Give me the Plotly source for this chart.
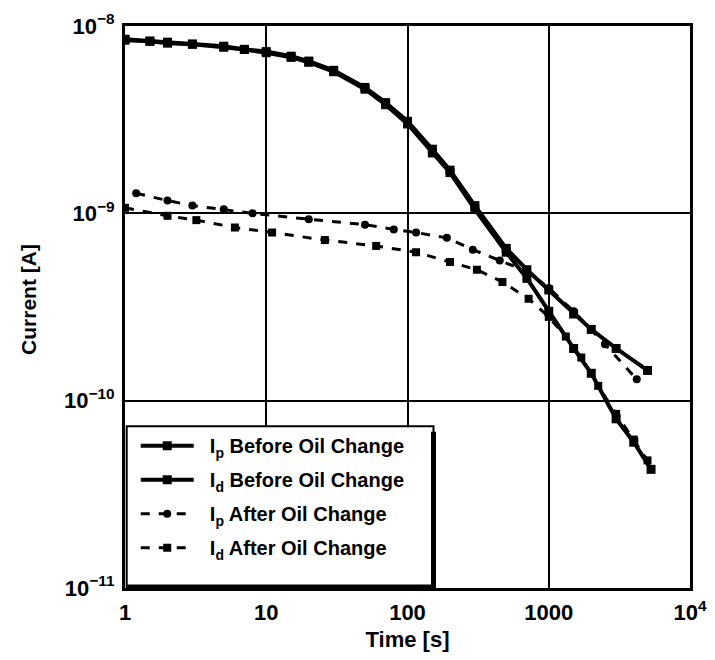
import plotly.graph_objects as go

# ---- data ----
t_ip_before = [1, 1.5, 2, 3, 5, 7, 10, 15, 20, 30, 50, 70, 100, 150, 200, 300, 500, 700, 1000, 1500, 2000, 3000, 5000]
ip_before = [8.5e-9, 8.3e-9, 8.2e-9, 8.0e-9, 7.8e-9, 7.5e-9, 7.3e-9, 6.9e-9, 6.5e-9, 5.8e-9, 4.7e-9, 3.9e-9,
             3.1e-9, 2.2e-9, 1.7e-9, 1.1e-9, 6.5e-10, 5.0e-10, 3.9e-10, 2.9e-10, 2.4e-10, 1.9e-10, 1.45e-10]

t_id_before = [1, 1.5, 2, 3, 5, 7, 10, 15, 20, 30, 50, 70, 100, 150, 200, 300, 500, 700, 1000, 1500, 2000, 3000, 4000, 5300]
id_before = [8.4e-9, 8.3e-9, 8.1e-9, 8.0e-9, 7.7e-9, 7.5e-9, 7.2e-9, 6.8e-9, 6.4e-9, 5.7e-9, 4.6e-9, 3.8e-9,
             3.0e-9, 2.1e-9, 1.65e-9, 1.05e-9, 6.2e-10, 4.5e-10, 3.0e-10, 1.9e-10, 1.4e-10, 8.0e-11, 6.0e-11, 4.3e-11]

t_ip_after = [1.2, 2, 3, 5, 8, 20, 50, 80, 115, 190, 290, 450, 700, 1000, 1500, 2500, 4200]
ip_after = [1.28e-9, 1.17e-9, 1.1e-9, 1.05e-9, 1.0e-9, 9.3e-10, 8.7e-10, 8.2e-10, 7.9e-10, 7.4e-10, 6.4e-10,
            5.6e-10, 4.9e-10, 4.0e-10, 3.0e-10, 2.0e-10, 1.3e-10]

t_id_after = [1, 2, 3.2, 6, 11, 26, 60, 115, 200, 310, 470, 720, 1000, 1320, 1700, 2240, 3000, 4000, 5000]
id_after = [1.07e-9, 9.7e-10, 9.2e-10, 8.4e-10, 7.9e-10, 7.2e-10, 6.7e-10, 6.2e-10, 5.5e-10, 5.0e-10, 4.3e-10,
            3.5e-10, 2.8e-10, 2.2e-10, 1.7e-10, 1.2e-10, 8.5e-11, 6.2e-11, 4.8e-11]

x_tickvals = [1, 10, 100, 1000, 10000]
x_ticktext = ["1", "10", "100", "1000", "10<sup>4</sup>"]
y_tickvals = [1e-11, 1e-10, 1e-9, 1e-8]
y_ticktext = ["10<sup>\u221211</sup>", "10<sup>\u221210</sup>", "10<sup>\u22129</sup>", "10<sup>\u22128</sup>"]

names = ["I<sub>p</sub> Before Oil Change", "I<sub>d</sub> Before Oil Change",
         "I<sub>p</sub> After Oil Change", "I<sub>d</sub> After Oil Change"]

FONT = "Liberation Sans"
PAD = "\u00a0" * 2

fig = go.Figure()
series = [
    (t_ip_before, ip_before, names[0], "solid", "square", 9, 4),
    (t_id_before, id_before, names[1], "solid", "square", 9, 4),
    (t_ip_after, ip_after, names[2], "dash", "circle", 8, 3),
    (t_id_after, id_after, names[3], "dash", "square", 8, 3),
]
for i, (tx, yy, nm, dash, sym, ms, lw) in enumerate(series):
    fig.add_trace(go.Scatter(
        x=tx, y=yy, name=PAD + nm, mode="lines+markers", legendgroup=f"g{i}",
        line=dict(color="black", width=lw, dash=dash),
        marker=dict(symbol=sym, size=ms, color="black"),
    ))

axis_common = dict(
    type="log", showgrid=True, gridcolor="black", gridwidth=2,
    showline=True, linecolor="black", linewidth=3, mirror=True,
    ticks="", zeroline=False, automargin=False, ticklabeloverflow="allow",
    tickfont=dict(family=FONT, size=22, color="black", weight="bold"),
)

fig.update_xaxes(
    **axis_common, range=[0, 4], tickvals=x_tickvals, ticktext=x_ticktext,
    ticklabelstandoff=3,
    title=dict(text="Time [s]", font=dict(family=FONT, size=22, color="black", weight="bold"), standoff=14),
)
fig.update_yaxes(
    **axis_common, range=[-11, -8], tickvals=y_tickvals, ticktext=y_ticktext,
    ticklabelstandoff=3,
)

# legend frame (white box with heavy bottom/right edge)
LX0, LX1, LY1 = 0.003, 0.546, 0.288
fig.add_shape(type="rect", xref="paper", yref="paper", x0=LX0, x1=LX1, y0=0, y1=LY1,
              fillcolor="white", line=dict(color="black", width=2), layer="above")
fig.add_shape(type="line", xref="paper", yref="paper", x0=LX1, x1=LX1, y0=0, y1=LY1 - 0.01,
              line=dict(color="black", width=5), layer="above")
fig.add_shape(type="line", xref="paper", yref="paper", x0=LX0, x1=LX1, y0=0.002, y1=0.002,
              line=dict(color="black", width=5), layer="above")

fig.add_annotation(text="Current [A]", xref="paper", yref="paper", x=-0.172, y=0.514,
                   xanchor="center", yanchor="middle",
                   textangle=-90, showarrow=False,
                   font=dict(family=FONT, size=21, color="black", weight="bold"))

fig.update_layout(
    width=699, height=644,
    margin=dict(l=117, r=17, t=18, b=64),
    paper_bgcolor="white", plot_bgcolor="white",
    font=dict(family=FONT, color="black"),
    legend=dict(
        x=0.019, y=LY1, xanchor="left", yanchor="top",
        bgcolor="rgba(0,0,0,0)", borderwidth=0,
        font=dict(family=FONT, size=20, color="black", weight="bold"),
        itemwidth=53, tracegroupgap=5,
    ),
    showlegend=True,
)

fig.write_html("out.html")
